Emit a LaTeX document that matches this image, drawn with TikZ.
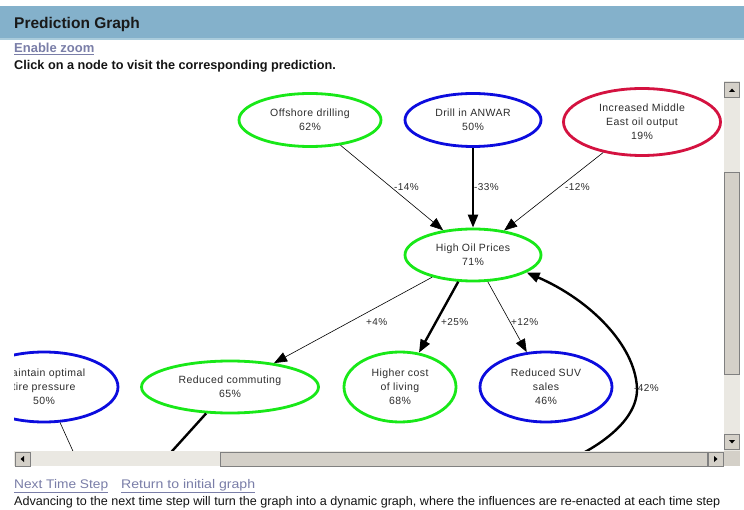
\documentclass[tikz,border=0pt]{standalone}
\usepackage{graphicx}
\usepackage{fontspec}
\setmainfont{Liberation Sans}
\newfontfamily\gfont[LetterSpace=4]{Liberation Sans}
\usetikzlibrary{arrows.meta,shapes.geometric}
\definecolor{hdr}{RGB}{132,177,203}
\definecolor{hdrline}{RGB}{170,204,220}
\definecolor{lnk}{RGB}{122,126,168}
\definecolor{ngreen}{RGB}{24,232,24}
\definecolor{nblue}{RGB}{12,12,222}
\definecolor{ncrim}{RGB}{212,18,64}
\definecolor{txt}{RGB}{45,45,45}
\definecolor{sbface}{RGB}{212,208,200}
\definecolor{sbtrack}{RGB}{234,232,226}
\definecolor{sbdark}{RGB}{128,128,128}
\begin{document}
\begin{tikzpicture}[x=1pt,y=-1pt,
  pnode/.style={ellipse, line width=2.8pt, inner sep=0pt, align=center, text=txt,
    font=\gfont\fontsize{10.5}{14}\selectfont},
  gn/.style={pnode, draw=ngreen},
  bn/.style={pnode, draw=nblue},
  rn/.style={pnode, draw=ncrim},
  lightedge/.style={draw=black, line width=0.6pt, -{Triangle[length=13pt,width=10pt]}},
  heavyedge/.style={draw=black, line width=2.4pt, -{Triangle[length=13pt,width=10pt]}},
  elabel/.style={anchor=west, inner sep=0pt, text=txt, font=\gfont\fontsize{10}{11}\selectfont},
  sbbtn/.style={fill=sbface, draw=sbdark, line width=0.6pt},
  sbthumb/.style={fill=sbface, draw=sbdark, line width=0.6pt},
]
\useasboundingbox (0,0) rectangle (744,510);
\fill[white] (0,0) rectangle (744,510);
% header
\fill[hdr] (0,6) rectangle (744,38);
\fill[hdrline] (0,38) rectangle (744,40);
\node[anchor=base west, inner sep=0pt, font=\bfseries\fontsize{15.5}{18}\selectfont, text=black!90] (title) at (14,28.5) {Prediction Graph};
\node[anchor=base west, inner sep=0pt, font=\bfseries\fontsize{13}{15}\selectfont, text=lnk] (zoomlink) at (14,52.5) {\underline{Enable zoom}};
\node[anchor=base west, inner sep=0pt, font=\bfseries\fontsize{12.7}{15}\selectfont, text=black!92] (click) at (14,69.5) {Click on a node to visit the corresponding prediction.};

% graph
\begin{scope}
\clip (14,80) rectangle (724,451);
\node[gn, minimum width=142pt, minimum height=53pt] (off) at (310,120) {Offshore drilling\\62\%};
\node[bn, minimum width=136pt, minimum height=53pt] (anw) at (473,120) {Drill in ANWAR\\50\%};
\node[rn, minimum width=157pt, minimum height=67pt] (inc) at (642,122) {Increased Middle\\East oil output\\19\%};
\node[gn, minimum width=136pt, minimum height=52pt] (hop) at (473,255) {High Oil Prices\\71\%};
\node[bn, minimum width=148pt, minimum height=70pt] (mt) at (44,387) {Maintain optimal\\tire pressure\\50\%};
\node[gn, minimum width=177pt, minimum height=52pt] (rc) at (230,387) {Reduced commuting\\65\%};
\node[gn, minimum width=112pt, minimum height=70pt] (hc) at (400,387) {Higher cost\\of living\\68\%};
\node[bn, minimum width=132pt, minimum height=70pt] (suv) at (546,387) {Reduced SUV\\sales\\46\%};

\draw[lightedge] (off) -- (hop);
\draw[heavyedge] (anw) -- (hop);
\draw[lightedge] (inc) -- (hop);
\draw[lightedge] (hop) -- (rc);
\draw[heavyedge] (hop) -- (hc);
\draw[lightedge] (hop) -- (suv);
\coordinate (cb) at (545,470);
\draw[heavyedge] (cb) .. controls (600,450) and (638,420) .. (637,388)
   .. controls (635,345) and (590,300) .. (hop.-18);
\coordinate (c1) at (86,480);
\coordinate (c2) at (146,480);
\draw[draw=black, line width=0.6pt] (mt) -- (c1);
\draw[draw=black, line width=2.4pt] (rc) -- (c2);

\node[elabel] (l1) at (394,187.5) {-14\%};
\node[elabel] (l2) at (474,187.5) {-33\%};
\node[elabel] (l3) at (565,187) {-12\%};
\node[elabel] (l4) at (366,322) {+4\%};
\node[elabel] (l5) at (441,322) {+25\%};
\node[elabel] (l6) at (511,322) {+12\%};
\node[elabel] (l7) at (634,388) {-42\%};
\end{scope}

% vertical scrollbar
\fill[sbtrack] (724,81) rectangle (740,451);
\draw[sbbtn] (724.5,82) rectangle (739.5,97);
\fill[black] (729,92) -- (735,92) -- (732,88.5) -- cycle;
\draw[sbthumb] (724.5,172) rectangle (739.5,374);
\draw[sbbtn] (724.5,434) rectangle (739.5,449.5);
\fill[black] (729,440) -- (735,440) -- (732,443.5) -- cycle;
% horizontal scrollbar
\fill[sbtrack] (14,451) rectangle (724,466);
\draw[sbbtn] (15,452) rectangle (30,466);
\fill[black] (24,456) -- (24,462) -- (20.5,459) -- cycle;
\draw[sbthumb] (220,452) rectangle (707,466);
\draw[sbbtn] (708,452) rectangle (723,466);
\fill[black] (714,456) -- (714,462) -- (717.5,459) -- cycle;
\fill[sbface] (724,451) rectangle (740,466);

% bottom links and text
\node[anchor=base west, inner sep=0pt, text=lnk, font=\fontsize{12.5}{15}\selectfont] (next) at (14,488) {\resizebox{94pt}{\height}{\underline{Next Time Step}}};
\node[anchor=base west, inner sep=0pt, text=lnk, font=\fontsize{12.5}{15}\selectfont] (ret) at (121,488) {\resizebox{134pt}{\height}{\underline{Return to initial graph}}};
\node[anchor=base west, inner sep=0pt, text=black!92, font=\fontsize{12.5}{15}\selectfont] (adv) at (14,505.5) {\resizebox{706pt}{\height}{Advancing to the next time step will turn the graph into a dynamic graph, where the influences are re-enacted at each time step}};
\end{tikzpicture}
\end{document}
